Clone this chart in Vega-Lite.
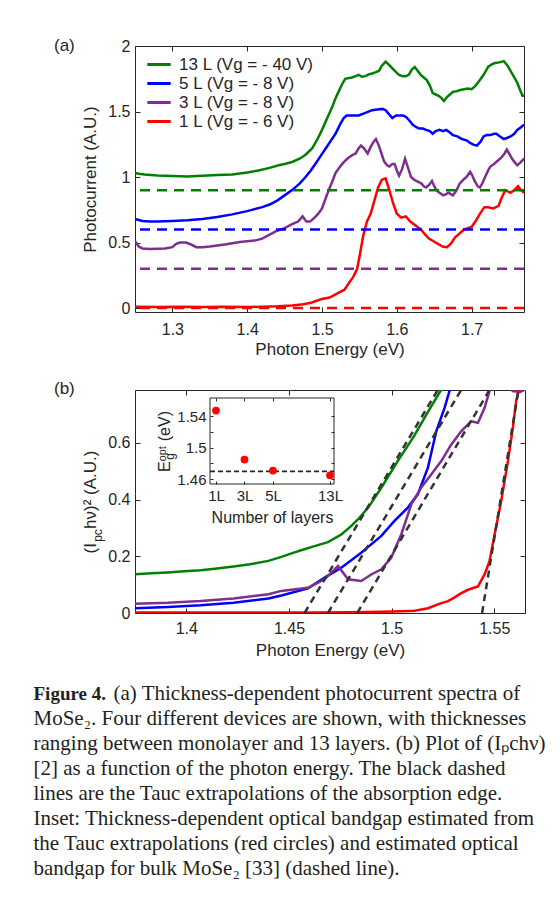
{
  "$schema": "https://vega.github.io/schema/vega-lite/v6.json",
  "background": "white",
  "padding": {"left": 33, "top": 36, "right": 0, "bottom": 0},
  "bounds": "flush",
  "config": {
    "font": "Liberation Sans",
    "view": {"stroke": "#262626", "strokeWidth": 1},
    "axis": {"grid": false, "domain": false, "tickColor": "#262626", "tickSize": -5, "tickWidth": 1, "labelColor": "#262626", "labelFont": "Liberation Sans", "labelFontSize": 16, "titleFont": "Liberation Sans", "titleFontSize": 17, "titleFontWeight": "normal", "titleColor": "#262626", "labelPadding": 10}
  },
  "title": {
    "text": "Figure 4.",
    "subtitle": [
      "MoSe₂. Four different devices are shown, with thicknesses",
      "ranging between monolayer and 13 layers. (b) Plot of (Iₚchν)",
      "[2] as a function of the photon energy. The black dashed",
      "lines are the Tauc extrapolations of the absorption edge.",
      "Inset: Thickness-dependent optical bandgap estimated from",
      "the Tauc extrapolations (red circles) and estimated optical",
      "bandgap for bulk MoSe₂ [33] (dashed line)."
    ],
    "orient": "bottom",
    "anchor": "start",
    "frame": "bounds",
    "dx": -20,
    "offset": -19.5,
    "font": "Liberation Serif",
    "fontSize": 19,
    "fontWeight": "bold",
    "color": "#231f20",
    "subtitleFont": "Liberation Serif",
    "subtitleFontSize": 21,
    "subtitleColor": "#231f20",
    "subtitleLineHeight": 25,
    "subtitlePadding": 4.5
  },
  "datasets": {
    "base": [{"s": "13L", "v": 0.9}, {"s": "5L", "v": 0.6}, {"s": "3L", "v": 0.3}, {"s": "1L", "v": 0}],
    "a": [
      {"s":"1L","E":1.25,"v":0.01},{"s":"1L","E":1.28,"v":0.008},{"s":"1L","E":1.31,"v":0.011},{"s":"1L","E":1.34,"v":0.008},{"s":"1L","E":1.37,"v":0.01},{"s":"1L","E":1.40,"v":0.008},{"s":"1L","E":1.42,"v":0.01},{"s":"1L","E":1.44,"v":0.013},{"s":"1L","E":1.46,"v":0.02},{"s":"1L","E":1.475,"v":0.03},{"s":"1L","E":1.485,"v":0.04},{"s":"1L","E":1.49,"v":0.05},{"s":"1L","E":1.50,"v":0.07},{"s":"1L","E":1.51,"v":0.08},{"s":"1L","E":1.52,"v":0.11},{"s":"1L","E":1.53,"v":0.14},{"s":"1L","E":1.537,"v":0.2},{"s":"1L","E":1.542,"v":0.24},{"s":"1L","E":1.547,"v":0.3},{"s":"1L","E":1.551,"v":0.42},{"s":"1L","E":1.555,"v":0.55},{"s":"1L","E":1.56,"v":0.66},{"s":"1L","E":1.565,"v":0.72},{"s":"1L","E":1.57,"v":0.82},{"s":"1L","E":1.575,"v":0.92},{"s":"1L","E":1.58,"v":0.98},{"s":"1L","E":1.585,"v":0.99},{"s":"1L","E":1.59,"v":0.9},{"s":"1L","E":1.595,"v":0.8},{"s":"1L","E":1.60,"v":0.72},{"s":"1L","E":1.606,"v":0.69},{"s":"1L","E":1.612,"v":0.7},{"s":"1L","E":1.618,"v":0.66},{"s":"1L","E":1.625,"v":0.63},{"s":"1L","E":1.632,"v":0.6},{"s":"1L","E":1.638,"v":0.56},{"s":"1L","E":1.643,"v":0.53},{"s":"1L","E":1.649,"v":0.51},{"s":"1L","E":1.655,"v":0.49},{"s":"1L","E":1.661,"v":0.47},{"s":"1L","E":1.667,"v":0.465},{"s":"1L","E":1.672,"v":0.49},{"s":"1L","E":1.678,"v":0.54},{"s":"1L","E":1.684,"v":0.57},{"s":"1L","E":1.69,"v":0.6},{"s":"1L","E":1.70,"v":0.62},{"s":"1L","E":1.705,"v":0.66},{"s":"1L","E":1.71,"v":0.71},{"s":"1L","E":1.717,"v":0.77},{"s":"1L","E":1.722,"v":0.77},{"s":"1L","E":1.729,"v":0.76},{"s":"1L","E":1.736,"v":0.78},{"s":"1L","E":1.74,"v":0.84},{"s":"1L","E":1.745,"v":0.9},{"s":"1L","E":1.752,"v":0.88},{"s":"1L","E":1.757,"v":0.9},{"s":"1L","E":1.762,"v":0.93},{"s":"1L","E":1.766,"v":0.9},{"s":"1L","E":1.77,"v":0.88},
      {"s":"3L","E":1.25,"v":0.51},{"s":"3L","E":1.255,"v":0.47},{"s":"3L","E":1.26,"v":0.455},{"s":"3L","E":1.27,"v":0.45},{"s":"3L","E":1.28,"v":0.452},{"s":"3L","E":1.29,"v":0.455},{"s":"3L","E":1.30,"v":0.465},{"s":"3L","E":1.305,"v":0.49},{"s":"3L","E":1.31,"v":0.5},{"s":"3L","E":1.318,"v":0.5},{"s":"3L","E":1.325,"v":0.485},{"s":"3L","E":1.332,"v":0.465},{"s":"3L","E":1.34,"v":0.465},{"s":"3L","E":1.35,"v":0.47},{"s":"3L","E":1.36,"v":0.477},{"s":"3L","E":1.37,"v":0.485},{"s":"3L","E":1.38,"v":0.495},{"s":"3L","E":1.39,"v":0.505},{"s":"3L","E":1.40,"v":0.51},{"s":"3L","E":1.41,"v":0.515},{"s":"3L","E":1.42,"v":0.53},{"s":"3L","E":1.43,"v":0.56},{"s":"3L","E":1.44,"v":0.59},{"s":"3L","E":1.45,"v":0.61},{"s":"3L","E":1.46,"v":0.64},{"s":"3L","E":1.468,"v":0.66},{"s":"3L","E":1.474,"v":0.7},{"s":"3L","E":1.479,"v":0.66},{"s":"3L","E":1.484,"v":0.66},{"s":"3L","E":1.49,"v":0.69},{"s":"3L","E":1.495,"v":0.72},{"s":"3L","E":1.50,"v":0.76},{"s":"3L","E":1.505,"v":0.84},{"s":"3L","E":1.509,"v":0.9},{"s":"3L","E":1.514,"v":0.97},{"s":"3L","E":1.518,"v":1.03},{"s":"3L","E":1.523,"v":1.07},{"s":"3L","E":1.527,"v":1.1},{"s":"3L","E":1.532,"v":1.13},{"s":"3L","E":1.536,"v":1.15},{"s":"3L","E":1.541,"v":1.17},{"s":"3L","E":1.545,"v":1.18},{"s":"3L","E":1.549,"v":1.22},{"s":"3L","E":1.552,"v":1.24},{"s":"3L","E":1.556,"v":1.22},{"s":"3L","E":1.561,"v":1.18},{"s":"3L","E":1.565,"v":1.23},{"s":"3L","E":1.569,"v":1.27},{"s":"3L","E":1.572,"v":1.29},{"s":"3L","E":1.576,"v":1.24},{"s":"3L","E":1.58,"v":1.17},{"s":"3L","E":1.583,"v":1.12},{"s":"3L","E":1.587,"v":1.09},{"s":"3L","E":1.59,"v":1.08},{"s":"3L","E":1.594,"v":1.1},{"s":"3L","E":1.597,"v":1.1},{"s":"3L","E":1.60,"v":1.05},{"s":"3L","E":1.603,"v":1.01},{"s":"3L","E":1.607,"v":1.06},{"s":"3L","E":1.611,"v":1.14},{"s":"3L","E":1.615,"v":1.07},{"s":"3L","E":1.619,"v":1.0},{"s":"3L","E":1.623,"v":0.98},{"s":"3L","E":1.626,"v":0.97},{"s":"3L","E":1.63,"v":0.96},{"s":"3L","E":1.633,"v":0.95},{"s":"3L","E":1.636,"v":0.93},{"s":"3L","E":1.639,"v":0.92},{"s":"3L","E":1.643,"v":0.94},{"s":"3L","E":1.647,"v":0.97},{"s":"3L","E":1.65,"v":0.93},{"s":"3L","E":1.653,"v":0.9},{"s":"3L","E":1.657,"v":0.88},{"s":"3L","E":1.662,"v":0.86},{"s":"3L","E":1.666,"v":0.87},{"s":"3L","E":1.669,"v":0.88},{"s":"3L","E":1.672,"v":0.87},{"s":"3L","E":1.675,"v":0.86},{"s":"3L","E":1.68,"v":0.9},{"s":"3L","E":1.684,"v":0.95},{"s":"3L","E":1.689,"v":0.98},{"s":"3L","E":1.693,"v":1.0},{"s":"3L","E":1.698,"v":1.04},{"s":"3L","E":1.701,"v":1.01},{"s":"3L","E":1.704,"v":0.97},{"s":"3L","E":1.708,"v":0.93},{"s":"3L","E":1.711,"v":0.92},{"s":"3L","E":1.715,"v":0.96},{"s":"3L","E":1.718,"v":1.0},{"s":"3L","E":1.722,"v":1.05},{"s":"3L","E":1.725,"v":1.08},{"s":"3L","E":1.73,"v":1.1},{"s":"3L","E":1.734,"v":1.12},{"s":"3L","E":1.74,"v":1.15},{"s":"3L","E":1.744,"v":1.18},{"s":"3L","E":1.747,"v":1.21},{"s":"3L","E":1.75,"v":1.18},{"s":"3L","E":1.754,"v":1.14},{"s":"3L","E":1.758,"v":1.11},{"s":"3L","E":1.761,"v":1.09},{"s":"3L","E":1.765,"v":1.11},{"s":"3L","E":1.77,"v":1.14},
      {"s":"5L","E":1.25,"v":0.68},{"s":"5L","E":1.26,"v":0.665},{"s":"5L","E":1.27,"v":0.66},{"s":"5L","E":1.28,"v":0.66},{"s":"5L","E":1.30,"v":0.665},{"s":"5L","E":1.32,"v":0.67},{"s":"5L","E":1.34,"v":0.68},{"s":"5L","E":1.36,"v":0.695},{"s":"5L","E":1.38,"v":0.715},{"s":"5L","E":1.40,"v":0.74},{"s":"5L","E":1.42,"v":0.77},{"s":"5L","E":1.43,"v":0.79},{"s":"5L","E":1.44,"v":0.82},{"s":"5L","E":1.45,"v":0.86},{"s":"5L","E":1.46,"v":0.9},{"s":"5L","E":1.47,"v":0.95},{"s":"5L","E":1.478,"v":1.0},{"s":"5L","E":1.485,"v":1.05},{"s":"5L","E":1.491,"v":1.1},{"s":"5L","E":1.498,"v":1.16},{"s":"5L","E":1.504,"v":1.21},{"s":"5L","E":1.511,"v":1.27},{"s":"5L","E":1.518,"v":1.33},{"s":"5L","E":1.524,"v":1.4},{"s":"5L","E":1.529,"v":1.45},{"s":"5L","E":1.533,"v":1.47},{"s":"5L","E":1.54,"v":1.47},{"s":"5L","E":1.549,"v":1.47},{"s":"5L","E":1.558,"v":1.49},{"s":"5L","E":1.567,"v":1.51},{"s":"5L","E":1.574,"v":1.515},{"s":"5L","E":1.581,"v":1.52},{"s":"5L","E":1.585,"v":1.51},{"s":"5L","E":1.588,"v":1.49},{"s":"5L","E":1.594,"v":1.45},{"s":"5L","E":1.599,"v":1.47},{"s":"5L","E":1.603,"v":1.47},{"s":"5L","E":1.608,"v":1.47},{"s":"5L","E":1.612,"v":1.46},{"s":"5L","E":1.617,"v":1.43},{"s":"5L","E":1.621,"v":1.4},{"s":"5L","E":1.626,"v":1.38},{"s":"5L","E":1.63,"v":1.37},{"s":"5L","E":1.635,"v":1.37},{"s":"5L","E":1.639,"v":1.36},{"s":"5L","E":1.644,"v":1.35},{"s":"5L","E":1.648,"v":1.33},{"s":"5L","E":1.652,"v":1.35},{"s":"5L","E":1.657,"v":1.36},{"s":"5L","E":1.662,"v":1.35},{"s":"5L","E":1.666,"v":1.36},{"s":"5L","E":1.671,"v":1.34},{"s":"5L","E":1.675,"v":1.32},{"s":"5L","E":1.681,"v":1.31},{"s":"5L","E":1.687,"v":1.29},{"s":"5L","E":1.693,"v":1.28},{"s":"5L","E":1.698,"v":1.26},{"s":"5L","E":1.703,"v":1.245},{"s":"5L","E":1.707,"v":1.24},{"s":"5L","E":1.712,"v":1.27},{"s":"5L","E":1.716,"v":1.31},{"s":"5L","E":1.72,"v":1.32},{"s":"5L","E":1.725,"v":1.32},{"s":"5L","E":1.73,"v":1.33},{"s":"5L","E":1.733,"v":1.33},{"s":"5L","E":1.738,"v":1.31},{"s":"5L","E":1.743,"v":1.29},{"s":"5L","E":1.748,"v":1.3},{"s":"5L","E":1.752,"v":1.31},{"s":"5L","E":1.757,"v":1.33},{"s":"5L","E":1.761,"v":1.36},{"s":"5L","E":1.766,"v":1.38},{"s":"5L","E":1.77,"v":1.4},
      {"s":"13L","E":1.25,"v":1.03},{"s":"13L","E":1.255,"v":1.025},{"s":"13L","E":1.263,"v":1.02},{"s":"13L","E":1.28,"v":1.012},{"s":"13L","E":1.30,"v":1.008},{"s":"13L","E":1.32,"v":1.005},{"s":"13L","E":1.34,"v":1.01},{"s":"13L","E":1.36,"v":1.015},{"s":"13L","E":1.38,"v":1.02},{"s":"13L","E":1.40,"v":1.035},{"s":"13L","E":1.415,"v":1.05},{"s":"13L","E":1.43,"v":1.07},{"s":"13L","E":1.442,"v":1.09},{"s":"13L","E":1.45,"v":1.1},{"s":"13L","E":1.46,"v":1.115},{"s":"13L","E":1.47,"v":1.14},{"s":"13L","E":1.478,"v":1.17},{"s":"13L","E":1.487,"v":1.22},{"s":"13L","E":1.494,"v":1.29},{"s":"13L","E":1.50,"v":1.36},{"s":"13L","E":1.507,"v":1.45},{"s":"13L","E":1.514,"v":1.54},{"s":"13L","E":1.518,"v":1.6},{"s":"13L","E":1.522,"v":1.65},{"s":"13L","E":1.527,"v":1.71},{"s":"13L","E":1.531,"v":1.75},{"s":"13L","E":1.536,"v":1.755},{"s":"13L","E":1.54,"v":1.76},{"s":"13L","E":1.545,"v":1.77},{"s":"13L","E":1.549,"v":1.78},{"s":"13L","E":1.553,"v":1.765},{"s":"13L","E":1.558,"v":1.77},{"s":"13L","E":1.563,"v":1.785},{"s":"13L","E":1.567,"v":1.79},{"s":"13L","E":1.572,"v":1.8},{"s":"13L","E":1.576,"v":1.81},{"s":"13L","E":1.58,"v":1.85},{"s":"13L","E":1.585,"v":1.88},{"s":"13L","E":1.589,"v":1.86},{"s":"13L","E":1.594,"v":1.83},{"s":"13L","E":1.599,"v":1.8},{"s":"13L","E":1.603,"v":1.78},{"s":"13L","E":1.608,"v":1.77},{"s":"13L","E":1.612,"v":1.77},{"s":"13L","E":1.616,"v":1.78},{"s":"13L","E":1.62,"v":1.82},{"s":"13L","E":1.624,"v":1.84},{"s":"13L","E":1.628,"v":1.81},{"s":"13L","E":1.632,"v":1.78},{"s":"13L","E":1.636,"v":1.76},{"s":"13L","E":1.64,"v":1.74},{"s":"13L","E":1.644,"v":1.7},{"s":"13L","E":1.648,"v":1.64},{"s":"13L","E":1.652,"v":1.63},{"s":"13L","E":1.656,"v":1.62},{"s":"13L","E":1.66,"v":1.6},{"s":"13L","E":1.663,"v":1.58},{"s":"13L","E":1.667,"v":1.61},{"s":"13L","E":1.671,"v":1.63},{"s":"13L","E":1.675,"v":1.65},{"s":"13L","E":1.68,"v":1.655},{"s":"13L","E":1.685,"v":1.665},{"s":"13L","E":1.69,"v":1.67},{"s":"13L","E":1.695,"v":1.675},{"s":"13L","E":1.70,"v":1.67},{"s":"13L","E":1.705,"v":1.695},{"s":"13L","E":1.711,"v":1.74},{"s":"13L","E":1.716,"v":1.78},{"s":"13L","E":1.722,"v":1.84},{"s":"13L","E":1.727,"v":1.86},{"s":"13L","E":1.731,"v":1.87},{"s":"13L","E":1.737,"v":1.875},{"s":"13L","E":1.743,"v":1.885},{"s":"13L","E":1.748,"v":1.85},{"s":"13L","E":1.752,"v":1.81},{"s":"13L","E":1.757,"v":1.76},{"s":"13L","E":1.761,"v":1.72},{"s":"13L","E":1.765,"v":1.66},{"s":"13L","E":1.768,"v":1.62},{"s":"13L","E":1.77,"v":1.62}
    ],
    "b": [
      {"s":"13L","E":1.3747,"v":0.137},{"s":"13L","E":1.383,"v":0.14},{"s":"13L","E":1.391,"v":0.143},{"s":"13L","E":1.399,"v":0.147},{"s":"13L","E":1.407,"v":0.151},{"s":"13L","E":1.415,"v":0.157},{"s":"13L","E":1.423,"v":0.164},{"s":"13L","E":1.431,"v":0.172},{"s":"13L","E":1.44,"v":0.184},{"s":"13L","E":1.4463,"v":0.198},{"s":"13L","E":1.452,"v":0.212},{"s":"13L","E":1.4575,"v":0.225},{"s":"13L","E":1.4625,"v":0.236},{"s":"13L","E":1.469,"v":0.25},{"s":"13L","E":1.4755,"v":0.277},{"s":"13L","E":1.48,"v":0.305},{"s":"13L","E":1.4836,"v":0.33},{"s":"13L","E":1.4886,"v":0.372},{"s":"13L","E":1.495,"v":0.442},{"s":"13L","E":1.503,"v":0.536},{"s":"13L","E":1.511,"v":0.625},{"s":"13L","E":1.518,"v":0.713},{"s":"13L","E":1.524,"v":0.786},{"s":"13L","E":1.526,"v":0.81},
      {"s":"5L","E":1.3747,"v":0.017},{"s":"5L","E":1.391,"v":0.021},{"s":"5L","E":1.407,"v":0.027},{"s":"5L","E":1.423,"v":0.036},{"s":"5L","E":1.44,"v":0.051},{"s":"5L","E":1.4463,"v":0.062},{"s":"5L","E":1.4593,"v":0.087},{"s":"5L","E":1.4674,"v":0.125},{"s":"5L","E":1.4755,"v":0.16},{"s":"5L","E":1.4852,"v":0.213},{"s":"5L","E":1.495,"v":0.272},{"s":"5L","E":1.5014,"v":0.325},{"s":"5L","E":1.5079,"v":0.372},{"s":"5L","E":1.5128,"v":0.419},{"s":"5L","E":1.5177,"v":0.513},{"s":"5L","E":1.5218,"v":0.642},{"s":"5L","E":1.5258,"v":0.724},{"s":"5L","E":1.5282,"v":0.783},{"s":"5L","E":1.529,"v":0.8},
      {"s":"3L","E":1.3747,"v":0.033},{"s":"3L","E":1.391,"v":0.036},{"s":"3L","E":1.407,"v":0.042},{"s":"3L","E":1.423,"v":0.051},{"s":"3L","E":1.44,"v":0.066},{"s":"3L","E":1.4463,"v":0.078},{"s":"3L","E":1.4593,"v":0.089},{"s":"3L","E":1.4674,"v":0.119},{"s":"3L","E":1.4739,"v":0.166},{"s":"3L","E":1.4788,"v":0.119},{"s":"3L","E":1.4852,"v":0.113},{"s":"3L","E":1.4901,"v":0.136},{"s":"3L","E":1.495,"v":0.154},{"s":"3L","E":1.4998,"v":0.195},{"s":"3L","E":1.5047,"v":0.277},{"s":"3L","E":1.5096,"v":0.383},{"s":"3L","E":1.5144,"v":0.442},{"s":"3L","E":1.5193,"v":0.489},{"s":"3L","E":1.5242,"v":0.536},{"s":"3L","E":1.5291,"v":0.595},{"s":"3L","E":1.534,"v":0.642},{"s":"3L","E":1.5388,"v":0.677},{"s":"3L","E":1.5421,"v":0.671},{"s":"3L","E":1.5453,"v":0.724},{"s":"3L","E":1.5477,"v":0.783},{"s":"3L","E":1.549,"v":0.82},{"s":"3L","E":1.556,"v":0.83},{"s":"3L","E":1.559,"v":0.783},{"s":"3L","E":1.5625,"v":0.78},{"s":"3L","E":1.5656,"v":0.79},
      {"s":"1L","E":1.3747,"v":0.002},{"s":"1L","E":1.40,"v":0.002},{"s":"1L","E":1.43,"v":0.002},{"s":"1L","E":1.46,"v":0.002},{"s":"1L","E":1.48,"v":0.003},{"s":"1L","E":1.495,"v":0.004},{"s":"1L","E":1.505,"v":0.006},{"s":"1L","E":1.5112,"v":0.008},{"s":"1L","E":1.5177,"v":0.017},{"s":"1L","E":1.5242,"v":0.035},{"s":"1L","E":1.5275,"v":0.042},{"s":"1L","E":1.5307,"v":0.055},{"s":"1L","E":1.534,"v":0.07},{"s":"1L","E":1.5372,"v":0.082},{"s":"1L","E":1.5405,"v":0.09},{"s":"1L","E":1.5421,"v":0.094},{"s":"1L","E":1.5453,"v":0.136},{"s":"1L","E":1.5477,"v":0.183},{"s":"1L","E":1.5502,"v":0.277},{"s":"1L","E":1.5534,"v":0.395},{"s":"1L","E":1.5567,"v":0.536},{"s":"1L","E":1.5591,"v":0.654},{"s":"1L","E":1.5607,"v":0.748},{"s":"1L","E":1.5619,"v":0.783},{"s":"1L","E":1.563,"v":0.82}
    ],
    "tauc": [
      {"s":"13L","E":1.4576,"v":0},{"s":"13L","E":1.5225,"v":0.787},
      {"s":"5L","E":1.469,"v":0},{"s":"5L","E":1.5339,"v":0.787},
      {"s":"3L","E":1.4833,"v":0},{"s":"3L","E":1.5477,"v":0.787},
      {"s":"1L","E":1.5441,"v":0},{"s":"1L","E":1.5618,"v":0.787}
    ],
    "inset": [
      {"layers":"1L","pos":1,"eg":1.547},
      {"layers":"3L","pos":2,"eg":1.485},
      {"layers":"5L","pos":3,"eg":1.471},
      {"layers":"13L","pos":5,"eg":1.465}
    ],
    "frame": [{"x1":0.79,"x2":5.14,"y1":1.454,"y2":1.563}],
    "bulk": [{"from":0.79,"to":5.14,"eg":1.47}]
  },
  "vconcat": [
    {
      "title": {"text": "(a) Thickness-dependent photocurrent spectra of", "orient": "bottom", "anchor": "start", "frame": "bounds", "dx": 60, "offset": 24.5, "font": "Liberation Serif", "fontSize": 21, "fontWeight": "normal", "color": "#231f20"},
      "bounds": "flush",
      "spacing": 78,
      "resolve": {"scale": {"color": "independent"}},
      "vconcat": [
        {
          "width": 389,
          "height": 266,
          "title": {"text": "(a)", "anchor": "start", "frame": "group", "orient": "top", "offset": -5, "dx": -81, "dy": 12, "fontSize": 17, "fontWeight": "normal", "color": "#262626", "font": "Liberation Sans"},
          "layer": [
            {
              "data": {"name": "a"},
              "mark": {"type": "line", "strokeWidth": 2.5, "clip": true},
              "encoding": {
                "x": {"field": "E", "type": "quantitative", "scale": {"domain": [1.25, 1.77], "nice": false, "zero": false},
                      "axis": {"orient": "bottom", "values": [1.3, 1.4, 1.5, 1.6, 1.7], "format": "~g", "title": "Photon Energy (eV)", "labelPadding": 14, "titlePadding": 4}},
                "y": {"field": "v", "type": "quantitative", "scale": {"domain": [-0.03, 2], "nice": false, "zero": false},
                      "axis": {"orient": "left", "values": [0, 0.5, 1, 1.5, 2], "format": "~g", "title": "Photocurrent (A.U.)", "titlePadding": 8}},
                "color": {"field": "s", "type": "nominal", "scale": {"domain": ["13L", "5L", "3L", "1L"], "range": ["#008000", "#0000ff", "#7e2f8e", "#ff0000"]},
                  "legend": {"title": null, "orient": "none", "legendX": 13.5, "legendY": 8, "padding": 0, "symbolType": "M-1.3,0H1.3", "symbolSize": 324, "symbolStrokeWidth": 3, "symbolDash": [1, 0], "labelFontSize": 17, "labelColor": "#262626", "labelFont": "Liberation Sans", "labelOffset": 9.5, "rowPadding": 0,
                    "labelExpr": "datum.label == '13L' ? '13 L (Vg = - 40 V)' : datum.label == '5L' ? '5 L (Vg = - 8 V)' : datum.label == '3L' ? '3 L (Vg = - 8 V)' : '1 L (Vg = - 6 V)'"}}
              }
            },
            {
              "data": {"name": "base"},
              "mark": {"type": "rule", "strokeDash": [10, 7], "strokeWidth": 2.5},
              "encoding": {
                "y": {"field": "v", "type": "quantitative", "scale": {"domain": [-0.03, 2], "nice": false, "zero": false}, "axis": null},
                "color": {"field": "s", "type": "nominal", "scale": {"domain": ["13L", "5L", "3L", "1L"], "range": ["#008000", "#0000ff", "#7e2f8e", "#ff0000"]}}
              }
            },
            {
              "data": {"name": "a"},
              "mark": {"type": "line", "opacity": 0},
              "encoding": {
                "x": {"field": "E", "type": "quantitative", "scale": {"domain": [1.25, 1.77], "nice": false, "zero": false},
                      "axis": {"orient": "top", "values": [1.3, 1.4, 1.5, 1.6, 1.7], "labels": false, "title": null}},
                "y": {"field": "v", "type": "quantitative", "scale": {"domain": [-0.03, 2], "nice": false, "zero": false},
                      "axis": {"orient": "right", "values": [0, 0.5, 1, 1.5, 2], "labels": false, "title": null}},
                "detail": {"field": "s"}
              }
            }
          ],
          "resolve": {"axis": {"x": "independent", "y": "independent"}}
        },
        {
          "width": 390,
          "height": 223,
          "title": {"text": "(b)", "anchor": "start", "frame": "group", "orient": "top", "offset": -5, "dx": -81, "dy": 15, "fontSize": 17, "fontWeight": "normal", "color": "#262626", "font": "Liberation Sans"},
          "layer": [
            {
              "layer": [
                {
                  "data": {"name": "b"},
                  "mark": {"type": "line", "strokeWidth": 2.5, "clip": true},
                  "encoding": {
                    "x": {"field": "E", "type": "quantitative", "scale": {"domain": [1.375, 1.565], "nice": false, "zero": false},
                          "axis": {"orient": "bottom", "values": [1.4, 1.45, 1.5, 1.55], "format": "~g", "title": "Photon Energy (eV)", "labelPadding": 12, "titlePadding": 6}},
                    "y": {"field": "v", "type": "quantitative", "scale": {"domain": [0, 0.787], "nice": false},
                          "axis": {"orient": "left", "values": [0, 0.2, 0.4, 0.6], "format": "~g", "title": "(I\u00a0\u00a0\u00a0hν)² (A.U.)", "titlePadding": 8}},
                    "color": {"field": "s", "type": "nominal", "scale": {"domain": ["13L", "5L", "3L", "1L"], "range": ["#008000", "#0000ff", "#7e2f8e", "#ff0000"]}, "legend": null}
                  }
                },
                {
                  "data": {"name": "tauc"},
                  "mark": {"type": "line", "strokeWidth": 2.5, "strokeDash": [7, 5], "color": "#333333", "clip": true},
                  "encoding": {
                    "x": {"field": "E", "type": "quantitative", "scale": {"domain": [1.375, 1.565], "nice": false, "zero": false}, "axis": null},
                    "y": {"field": "v", "type": "quantitative", "scale": {"domain": [0, 0.787], "nice": false}, "axis": null},
                    "detail": {"field": "s"}
                  }
                },
                {
                  "data": {"name": "b"},
                  "mark": {"type": "line", "opacity": 0},
                  "encoding": {
                    "x": {"field": "E", "type": "quantitative", "scale": {"domain": [1.375, 1.565], "nice": false, "zero": false},
                          "axis": {"orient": "top", "values": [1.4, 1.45, 1.5, 1.55], "labels": false, "title": null}},
                    "y": {"field": "v", "type": "quantitative", "scale": {"domain": [0, 0.787], "nice": false},
                          "axis": {"orient": "right", "values": [0, 0.2, 0.4, 0.6], "labels": false, "title": "pc", "titleFontSize": 12, "titleAngle": 270, "titleX": -428, "titleY": 145, "titleAlign": "center", "titleBaseline": "middle"}},
                    "detail": {"field": "s"}
                  }
                }
              ],
              "resolve": {"axis": {"x": "independent", "y": "independent"}}
            },
            {
              "layer": [
                {
                  "data": {"name": "frame"},
                  "mark": {"type": "rect", "fill": "white", "fillOpacity": 0, "stroke": "#262626", "strokeWidth": 1},
                  "encoding": {
                    "x": {"field": "x1", "type": "quantitative", "scale": {"domain": [0.79, 5.14], "range": [75, 199], "nice": false, "zero": false},
                          "axis": {"orient": "top", "offset": -8, "values": [1, 2, 3, 5], "labels": false, "title": null, "tickSize": -3, "zindex": 1}},
                    "x2": {"field": "x2"},
                    "y": {"field": "y1", "type": "quantitative", "scale": {"domain": [1.454, 1.563], "range": [94, 8], "nice": false, "zero": false},
                          "axis": {"orient": "right", "offset": -191, "values": [1.46, 1.48, 1.5, 1.52, 1.54], "labels": false, "tickSize": -3, "zindex": 1,
                                   "title": "g", "titleFontSize": 12, "titleAngle": 270, "titleX": -165, "titleY": 66, "titleAlign": "center", "titleBaseline": "middle"}},
                    "y2": {"field": "y2"}
                  }
                },
                {
                  "data": {"name": "bulk"},
                  "mark": {"type": "rule", "strokeDash": [5, 3], "strokeWidth": 1.8, "color": "#262626"},
                  "encoding": {
                    "x": {"field": "from", "type": "quantitative", "scale": {"domain": [0.79, 5.14], "range": [75, 199], "nice": false, "zero": false}, "axis": null},
                    "x2": {"field": "to"},
                    "y": {"field": "eg", "type": "quantitative", "scale": {"domain": [1.454, 1.563], "range": [94, 8], "nice": false, "zero": false}, "axis": null}
                  }
                },
                {
                  "data": {"name": "inset"},
                  "mark": {"type": "point", "filled": true, "size": 60, "color": "#ff0000", "opacity": 1},
                  "encoding": {
                    "x": {"field": "pos", "type": "quantitative", "scale": {"domain": [0.79, 5.14], "range": [75, 199], "nice": false, "zero": false},
                          "axis": {"orient": "bottom", "offset": -129, "values": [1, 2, 3, 5], "tickSize": -3, "labelFontSize": 15, "labelPadding": 7, "zindex": 1,
                                   "labelExpr": "datum.value == 1 ? '1L' : datum.value == 2 ? '3L' : datum.value == 3 ? '5L' : '13L'", "title": "Number of layers", "titleFontSize": 16, "titlePadding": 6}},
                    "y": {"field": "eg", "type": "quantitative", "scale": {"domain": [1.454, 1.563], "range": [94, 8], "nice": false, "zero": false},
                          "axis": {"orient": "left", "offset": -75, "values": [1.46, 1.48, 1.5, 1.52, 1.54], "tickSize": -3, "labelFontSize": 15, "labelPadding": 7, "zindex": 1,
                                   "labelExpr": "datum.value == 1.48 || datum.value == 1.52 ? '' : format(datum.value, '~g')", "title": "Eᵒᵖᵗ (eV)", "titleFontSize": 16, "titlePadding": 4}}
                  }
                }
              ],
              "resolve": {"axis": {"x": "independent", "y": "independent"}}
            }
          ],
          "resolve": {"scale": {"x": "independent", "y": "independent", "color": "independent"}}
        }
      ]
    }
  ]
}
